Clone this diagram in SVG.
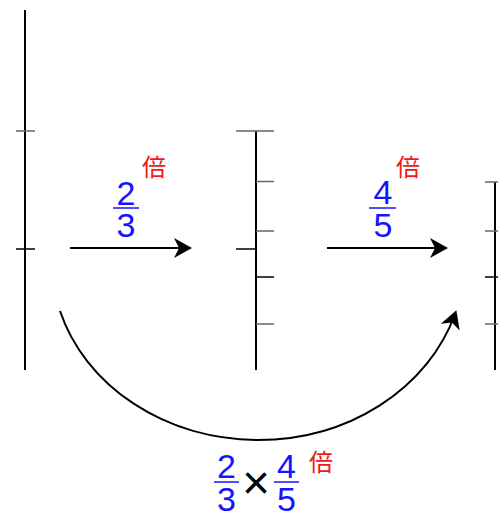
<svg xmlns="http://www.w3.org/2000/svg" width="498" height="513" viewBox="0 0 498 513">
<defs>
<style>
.axis{stroke:#000;stroke-width:2;fill:none}
.tg{stroke:#666;stroke-width:1.5}
.tb{stroke:#000;stroke-width:1.5}
.arr{stroke:#000;stroke-width:2;fill:none}
.num{font-family:"Liberation Sans",Arial,sans-serif;font-size:34px;fill:#1414ff;text-anchor:middle}
.bar{stroke:#1414ff;stroke-width:1.5}
.bai{font-family:"Noto Sans CJK JP","Noto Sans CJK SC",sans-serif;font-size:24px;fill:#f01818}
.op{font-family:"Liberation Sans",Arial,sans-serif;font-size:48px;fill:#000;text-anchor:middle}
</style>
<marker id="ah" viewBox="-20 -11 24 22" refX="-4" refY="0" markerWidth="24" markerHeight="22" markerUnits="userSpaceOnUse" orient="auto">
<path d="M0,0 L-18,-10 L-13,0 L-18,10 Z" fill="#000"/>
</marker>
</defs>
<rect width="498" height="513" fill="#fff"/>
<g id="scale1">
<line class="axis" x1="25" y1="10" x2="25" y2="370"/>
<line class="tg" x1="16" y1="131" x2="35" y2="131"/>
<line class="tb" x1="16" y1="249" x2="35" y2="249"/>
</g>
<g id="scale2">
<line class="axis" x1="256" y1="131" x2="256" y2="370"/>
<line class="tg" x1="236" y1="131" x2="274" y2="131"/>
<line class="tg" x1="256" y1="181.5" x2="274" y2="181.5"/>
<line class="tg" x1="256" y1="231" x2="274" y2="231"/>
<line class="tb" x1="236" y1="249" x2="256" y2="249"/>
<line class="tb" x1="256" y1="277" x2="274" y2="277"/>
<line class="tg" x1="256" y1="324" x2="274" y2="324"/>
</g>
<g id="scale3">
<line class="axis" x1="495" y1="182" x2="495" y2="370"/>
<line class="tg" x1="485" y1="182" x2="505" y2="182"/>
<line class="tg" x1="485" y1="231" x2="505" y2="231"/>
<line class="tb" x1="485" y1="277" x2="505" y2="277"/>
<line class="tg" x1="485" y1="324" x2="505" y2="324"/>
</g>
<g id="connectors">
<line class="arr" x1="70" y1="248" x2="188" y2="248" marker-end="url(#ah)"/>
<line class="arr" x1="327" y1="248" x2="444" y2="248" marker-end="url(#ah)"/>
<path class="arr" d="M60,311 A206.5,180 0 0 0 455,314" marker-end="url(#ah)"/>
</g>
<g id="label1">
<text class="num" x="126" y="204.5">2</text>
<line class="bar" x1="113" y1="208" x2="139" y2="208"/>
<text class="num" x="126" y="236.5">3</text>
<text class="bai" x="142" y="176">倍</text>
</g>
<g id="label2">
<text class="num" x="383" y="204">4</text>
<line class="bar" x1="369" y1="208" x2="396" y2="208"/>
<text class="num" x="383" y="236.5">5</text>
<text class="bai" x="396" y="176">倍</text>
</g>
<g id="label3">
<text class="num" x="226.5" y="478">2</text>
<line class="bar" x1="214" y1="482" x2="239" y2="482"/>
<text class="num" x="226.5" y="511">3</text>
<text class="op" x="256" y="499">×</text>
<text class="num" x="286.5" y="478">4</text>
<line class="bar" x1="274" y1="482" x2="299" y2="482"/>
<text class="num" x="286.5" y="511">5</text>
<text class="bai" x="309" y="471">倍</text>
</g>
</svg>
